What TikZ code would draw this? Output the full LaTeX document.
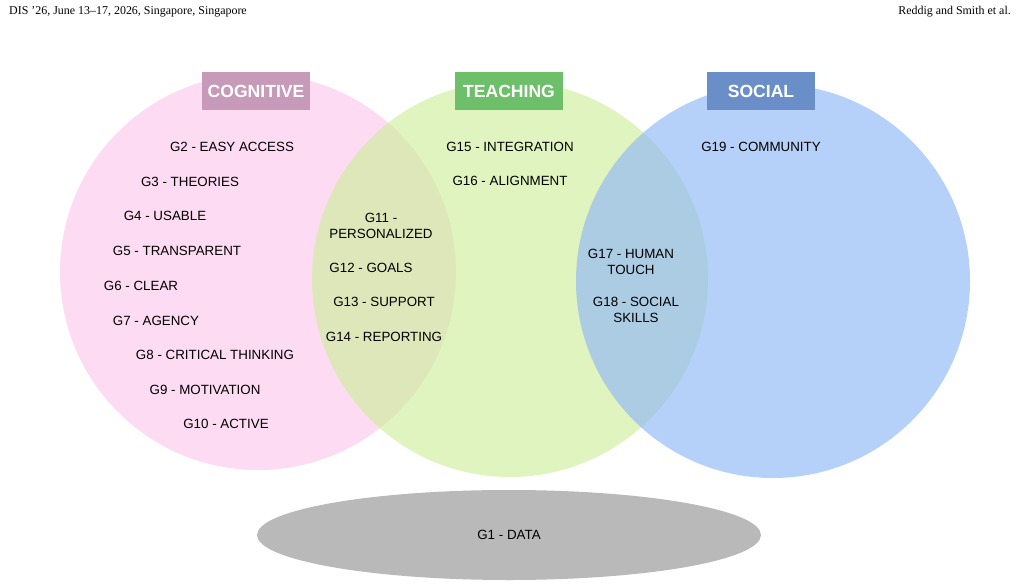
\documentclass[tikz,border=0pt]{standalone}
\usepackage{fontspec}
\setmainfont{Liberation Serif}
\newfontfamily\labelfont{Liberation Sans}
\usetikzlibrary{positioning}
\definecolor{cogfill}{HTML}{FBC8EC}
\definecolor{teachfill}{HTML}{CFEE9C}
\definecolor{socfill}{HTML}{8FB8F6}
\definecolor{cogbox}{HTML}{C79ABA}
\definecolor{teachbox}{HTML}{6EBF69}
\definecolor{socbox}{HTML}{6A8FC8}
\begin{document}
\begin{tikzpicture}[x=0.02cm,y=-0.02cm,
  set/.style={fill opacity=0.65},
  tag/.style={font=\labelfont\bfseries\fontsize{10}{12}\selectfont, text=white, minimum width=2.16cm, minimum height=0.76cm, inner sep=0pt},
  item/.style={font=\labelfont\fontsize{7.6}{9}\selectfont, align=center}]
  \useasboundingbox (0,0) rectangle (1020,587);
  % header
  \node[anchor=west,font=\fontsize{6.8}{8}\selectfont] (hl) at (3,12) {DIS '26, June 13--17, 2026, Singapore, Singapore};
  \node[anchor=east,font=\fontsize{6.8}{8}\selectfont] (hr) at (1017,12) {Reddig and Smith et al.};

  % sets
  \fill[cogfill,set] (258,272) circle (198);
  \fill[teachfill,set] (510,279) circle (198);
  \fill[socfill,set] (773,281) circle (197);
  \fill[gray!55] (509,535) ellipse (252 and 45);

  % headings
  \node[tag,fill=cogbox] (cog) at (256,91) {COGNITIVE};
  \node[tag,fill=teachbox] (teach) at (509,91) {TEACHING};
  \node[tag,fill=socbox] (soc) at (761,91) {SOCIAL};

  % cognitive
  \node[item] (g2) at (232,147) {G2 - EASY ACCESS};
  \node[item] (g3) at (190,182) {G3 - THEORIES};
  \node[item] (g4) at (165,216) {G4 - USABLE};
  \node[item] (g5) at (177,251) {G5 - TRANSPARENT};
  \node[item] (g6) at (141,286) {G6 - CLEAR};
  \node[item] (g7) at (156,321) {G7 - AGENCY};
  \node[item] (g8) at (215,355) {G8 - CRITICAL THINKING};
  \node[item] (g9) at (205,390) {G9 - MOTIVATION};
  \node[item] (g10) at (226,424) {G10 - ACTIVE};

  % cognitive + teaching
  \node[item] (g11) at (381,226) {G11 -\\PERSONALIZED};
  \node[item] (g12) at (371,268) {G12 - GOALS};
  \node[item] (g13) at (384,302) {G13 - SUPPORT};
  \node[item] (g14) at (384,337) {G14 - REPORTING};

  % teaching
  \node[item] (g15) at (510,147) {G15 - INTEGRATION};
  \node[item] (g16) at (510,181) {G16 - ALIGNMENT};

  % teaching + social
  \node[item] (g17) at (631,262) {G17 - HUMAN\\TOUCH};
  \node[item] (g18) at (636,310) {G18 - SOCIAL\\SKILLS};

  % social
  \node[item] (g19) at (761,147) {G19 - COMMUNITY};

  % base
  \node[item] (g1) at (509,535) {G1 - DATA};
\end{tikzpicture}
\end{document}
